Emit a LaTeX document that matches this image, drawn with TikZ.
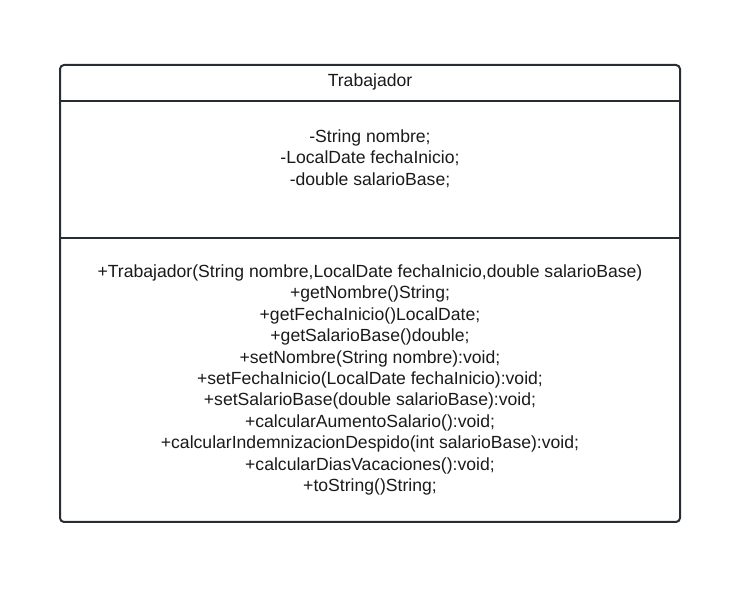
\documentclass[tikz,border=0pt]{standalone}
\usepackage{fontspec}
\setmainfont{Liberation Sans}
\usetikzlibrary{positioning}
\definecolor{borde}{HTML}{282C33}
\definecolor{texto}{HTML}{1A1A1A}
\tikzset{
  classbox/.style={draw=borde, line width=2pt, rounded corners=4pt, minimum width=620pt, minimum height=457pt, inner sep=0pt},
  sepline/.style={draw=borde, line width=2pt},
  umltext/.style={align=center, text=texto, font=\fontsize{17.6}{21.4}\selectfont, inner sep=0pt}
}
\begin{document}
\begin{tikzpicture}[x=1pt,y=1pt]
        \useasboundingbox (0,0) rectangle (744,605);
        \node[classbox] (trabajador) at (370,311.5) {};
        \coordinate (h1) at (60,504);
        \coordinate (h2) at (680,504);
        \coordinate (s1) at (60,367);
        \coordinate (s2) at (680,367);
        \draw[sepline] (h1) -- (h2);
        \draw[sepline] (s1) -- (s2);
        \node[umltext] (nombre) at (370,523) {Trabajador};
        \node[umltext, anchor=north] (atributos) at (370,475.4) {-String nombre;\\-LocalDate fechaInicio;\\-double salarioBase;};
        \node[umltext, anchor=north] (metodos) at (370,340.4) {+Trabajador(String nombre,LocalDate fechaInicio,double salarioBase)\\
          +getNombre()String;\\
          +getFechaInicio()LocalDate;\\
          +getSalarioBase()double;\\
          +setNombre(String nombre):void;\\
          +setFechaInicio(LocalDate fechaInicio):void;\\
          +setSalarioBase(double salarioBase):void;\\
          +calcularAumentoSalario():void;\\
          +calcularIndemnizacionDespido(int salarioBase):void;\\
          +calcularDiasVacaciones():void;\\
          +toString()String;};
      \end{tikzpicture}
\end{document}
